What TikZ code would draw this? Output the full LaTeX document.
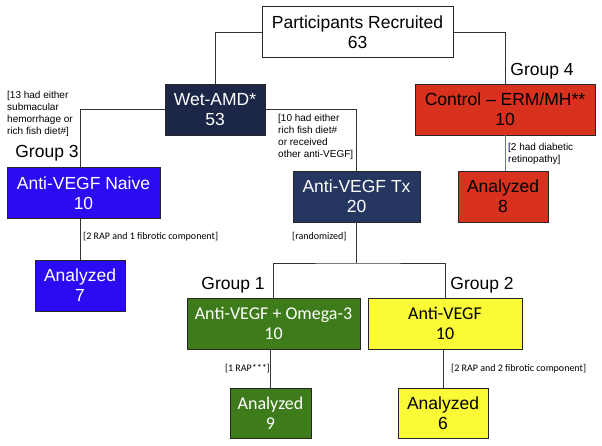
\documentclass[tikz,border=0pt]{standalone}
\usepackage{fontspec}
\setmainfont{Liberation Sans}
\newfontfamily\calibfont{Carlito}
\usepackage{tikz}
\usepackage{xcolor}
\definecolor{wetnavy}{HTML}{1C2747}
\definecolor{txnavy}{HTML}{253760}
\definecolor{ctrlred}{HTML}{D8321F}
\definecolor{naiveblue}{HTML}{2B0BF2}
\definecolor{omgreen}{HTML}{3E7B1B}
\definecolor{vegfyellow}{HTML}{FAFA37}
\definecolor{linkblue}{HTML}{5A78C0}

\begin{document}
\begin{tikzpicture}[
  x=1pt, y=-1pt,
  box/.style={draw=black!85, line width=0.6pt, minimum height=51pt, inner sep=0pt,
              align=center, font=\fontsize{17.5}{20}\selectfont},
  calbox/.style={box, font=\calibfont\fontsize{18}{20}\selectfont},
  grplbl/.style={font=\fontsize{17.5}{20}\selectfont, inner sep=0pt},
  note/.style={font=\fontsize{10}{12}\selectfont, align=left, inner sep=0pt, anchor=north west},
  calnote/.style={font=\calibfont\fontsize{10}{12}\selectfont, inner sep=0pt},
  link/.style={draw=black!80, line width=0.8pt}
]
\useasboundingbox (0,0) rectangle (602,445);

% Top of the flow
\node[box, fill=white, minimum width=191pt] (recruit) at (357.5,32) {Participants Recruited\\63};
\node[box, fill=wetnavy, text=white, minimum width=100pt] (wetamd) at (215,109.5) {Wet-AMD*\\53};
\node[box, fill=ctrlred, minimum width=180pt] (control) at (505,109.5) {Control \textendash{} ERM/MH**\\10};

% Second row
\node[box, fill=naiveblue, text=white, minimum width=153pt] (naive) at (83.5,193) {Anti-VEGF Naive\\10};
\node[box, fill=txnavy, text=white, minimum width=127pt] (antitx) at (356.5,196.5) {Anti-VEGF Tx\\20};
\node[box, fill=ctrlred, minimum width=90pt] (ana8) at (503,196.5) {Analyzed\\8};
\node[box, fill=naiveblue, text=white, minimum width=90pt] (ana7) at (80,285.5) {Analyzed\\7};

% Randomized arms
\node[calbox, fill=omgreen, text=white, minimum width=173pt] (omega) at (273.5,323.5) {Anti-VEGF + Omega-3\\10};
\node[calbox, fill=vegfyellow, minimum width=154pt] (vegf) at (445,323.5) {Anti-VEGF\\10};
\node[calbox, fill=omgreen, text=white, minimum width=81pt, minimum height=50pt] (ana9) at (270.5,413) {Analyzed\\9};
\node[box, fill=vegfyellow, minimum width=90pt, minimum height=50pt] (ana6) at (443,413) {Analyzed\\6};

% Group labels
\foreach \n/\x/\y in {4/542/71, 3/47/153, 1/233/285, 2/482/285}{
  \node[grplbl] (grp\n) at (\x,\y) {Group \n};
}

% Exclusion notes
\node[note] (note13) at (7,91) {[13 had either\\submacular\\hemorrhage or\\rich fish diet\#]};
\node[note] (note10) at (278,114) {[10 had either\\rich fish diet\#\\or received\\other anti-VEGF]};
\node[note] (notedr) at (508,143) {[2 had diabetic\\retinopathy]};
\node[calnote, anchor=west] (note7) at (83,237) {[2 RAP and 1 fibrotic component]};
\node[calnote, anchor=west] (noterand) at (292,237) {[randomized]};
\node[calnote, anchor=east] (noterap) at (270,369) {[1 RAP***]};
\node[calnote, anchor=west] (note6) at (451,369) {[2 RAP and 2 fibrotic component]};

% Connectors
\draw[link] (recruit.west) -| (wetamd.north);
\draw[link] (recruit.east) -| (control.north);
\draw[link] (wetamd.west) -| (ana7.north |- naive.north);
\draw[link] (wetamd.east) -| (antitx.north);
\draw[draw=linkblue, line width=0.6pt] (control.south) -- (control.south |- ana8.north);
\draw[link] (ana7.north |- naive.south) -- (ana7.north);
\coordinate (split) at (356.5,263);
\draw[link] (antitx.south) -- (split);
\draw[link] (omega.north) |- (split) -| (vegf.north);
\draw[link] (ana9.north |- omega.south) -- (ana9.north);
\draw[link] (ana6.north |- vegf.south) -- (ana6.north);

\end{tikzpicture}
\end{document}
